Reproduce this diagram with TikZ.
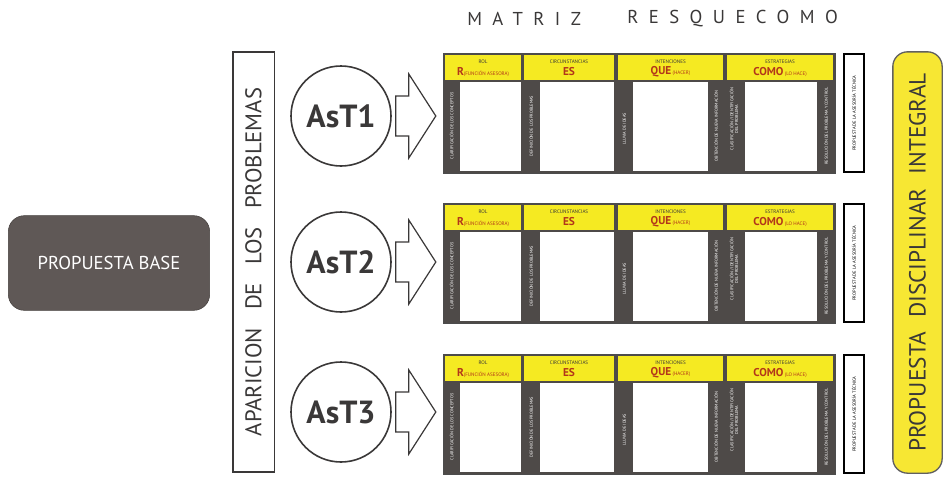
\documentclass[tikz,border=0pt]{standalone}
\usepackage{fontspec}
\setmainfont{PT Sans}
\usetikzlibrary{calc}
\definecolor{hdryellow}{HTML}{F5EA22}
\definecolor{stripgray}{HTML}{4E4A48}
\definecolor{basegray}{HTML}{5F5856}
\definecolor{lettred}{HTML}{B2361A}
\definecolor{sideyellow}{HTML}{F7E733}
\definecolor{inkgray}{HTML}{3A3838}
\tikzset{
  basebox/.style={fill=basegray, draw=basegray!70!black, rounded corners=12pt,
    minimum width=151pt, minimum height=71pt, text=white, inner sep=0pt,
    font=\fontsize{14}{16}\selectfont},
  tallbox/.style={draw=inkgray, line width=1pt, rotate=90, fill=white,
    minimum width=315pt, minimum height=31pt, inner sep=0pt,
    font=\fontsize{17}{19}\selectfont, text=inkgray},
  finalbox/.style={draw=inkgray!80, line width=1pt, rotate=90, fill=sideyellow,
    rounded corners=11pt, minimum width=316pt, minimum height=37pt, inner sep=0pt,
    font=\fontsize{17.5}{20}\selectfont, text=inkgray},
  astcircle/.style={circle, draw=inkgray, line width=1.2pt, minimum size=75pt,
    inner sep=0pt, text=inkgray, font=\bfseries\fontsize{24}{26}\selectfont},
  blockarrow/.style={draw=inkgray, line width=0.9pt, fill=white, line join=miter},
  titleword/.style={anchor=west, inner sep=0pt, text=inkgray,
    font=\addfontfeature{LetterSpace=56}\fontsize{14}{16}\selectfont},
  hdrtop/.style={inner sep=0pt, text=inkgray, font=\fontsize{3.8}{4}\selectfont},
  hdrkey/.style={inner sep=0pt, text=lettred, font=\fontsize{3.8}{4}\selectfont},
  striptxt/.style={rotate=90, inner sep=0pt, text=white, align=center,
    font=\fontsize{3.2}{3.6}\selectfont},
  sidebox/.style={draw=black, line width=1.5pt, fill=white, rotate=90,
    minimum width=88pt, minimum height=15pt, inner sep=0pt,
    font=\fontsize{3.4}{3.8}\selectfont}
}
\newcommand{\keyword}[1]{{\bfseries\fontsize{8.5}{9}\selectfont #1}}
\begin{document}
\begin{tikzpicture}[x=0.75pt,y=-0.75pt]
\useasboundingbox (0,0) rectangle (943,479);

% title
\node[titleword] (tm) at (467,19) {MATRIZ};
\node[titleword] (tr) at (627,19) {RESQUECOMO};

% left column
\node[basebox] (base) at (109,263) {PROPUESTA BASE};
\node[tallbox] (apar) at (253.5,262) {APARICION\hspace{0.8em}DE\hspace{0.8em}LOS\hspace{0.8em}PROBLEMAS};

% right column
\node[finalbox] (final) at (917.5,262.5) {PROPUESTA\hspace{0.6em}DISCIPLINAR\hspace{0.6em}INTEGRAL};

\foreach \r/\y/\c in {1/53/116, 2/203/262, 3/354/412}{
  % stage circle and block arrow towards its matrix
  \node[astcircle] (ast\r) at (341,\c) {AsT\r};
  \draw[blockarrow] ($(ast\r.east)+(4,-20)$) -- ++(13,0) -- ++(0,-22)
    -- ++(27,42) -- ++(-27,42) -- ++(0,-22) -- ++(-13,0) -- cycle;

  % matrix frame
  \fill[stripgray] (443,\y) rectangle (835,\y+120);
  \draw[black!70, line width=0.6pt] (443,\y) rectangle (835,\y+120);
  % header cells
  \fill[hdryellow] (445,\y+2) rectangle (521,\y+27);
  \fill[hdryellow] (524,\y+2) rectangle (614,\y+27);
  \fill[hdryellow] (618,\y+2) rectangle (723,\y+27);
  \fill[hdryellow] (727,\y+2) rectangle (833,\y+27);
  % answer cells
  \fill[white] (460,\y+29) rectangle (521,\y+118);
  \fill[white] (540,\y+29) rectangle (614,\y+118);
  \fill[white] (633,\y+29) rectangle (708,\y+118);
  \fill[white] (745,\y+29) rectangle (817,\y+118);

  % header labels
  \node[hdrtop] (h1t\r) at (483,\y+9) {ROL};
  \node[hdrkey] (h1k\r) at (483,\y+19) {\keyword{R}(FUNCIÓN ASESORA)};
  \node[hdrtop] (h2t\r) at (569,\y+9) {CIRCUNSTANCIAS};
  \node[hdrkey] (h2k\r) at (569,\y+19) {\keyword{ES}};
  \node[hdrtop] (h3t\r) at (670.5,\y+9) {INTENCIONES};
  \node[hdrkey] (h3k\r) at (670.5,\y+19) {\keyword{QUE} (HACER)};
  \node[hdrtop] (h4t\r) at (780,\y+9) {ESTRATEGIAS};
  \node[hdrkey] (h4k\r) at (780,\y+19) {\keyword{COMO} (LO HACE)};

  % strip labels
  \node[striptxt] (s1\r) at (451.5,\y+73) {CLARIFICACIÓN DE LOS CONCEPTOS};
  \node[striptxt] (s2\r) at (531,\y+73) {DEFINICIÓN DE LOS PROBLEMAS};
  \node[striptxt] (s3\r) at (624.5,\y+76) {LLUVIA DE IDEAS};
  \node[striptxt] (s4\r) at (716,\y+73) {OBTENCIÓN DE NUEVA INFORMACIÓN};
  \node[striptxt] (s5\r) at (734,\y+66) {CLASIFICACIÓN / IDENTIFICACIÓN\\DEL PROBLEMA};
  \node[striptxt] (s6\r) at (826,\y+73) {RESOLUCIÓN DEL PROBLEMA Y CONTROL};

  % technical proposal tag
  \node[sidebox] (side\r) at (854,\y+60) {PROPUESTA DE LA ASESORÍA TÉCNICA};
}
\end{tikzpicture}
\end{document}
